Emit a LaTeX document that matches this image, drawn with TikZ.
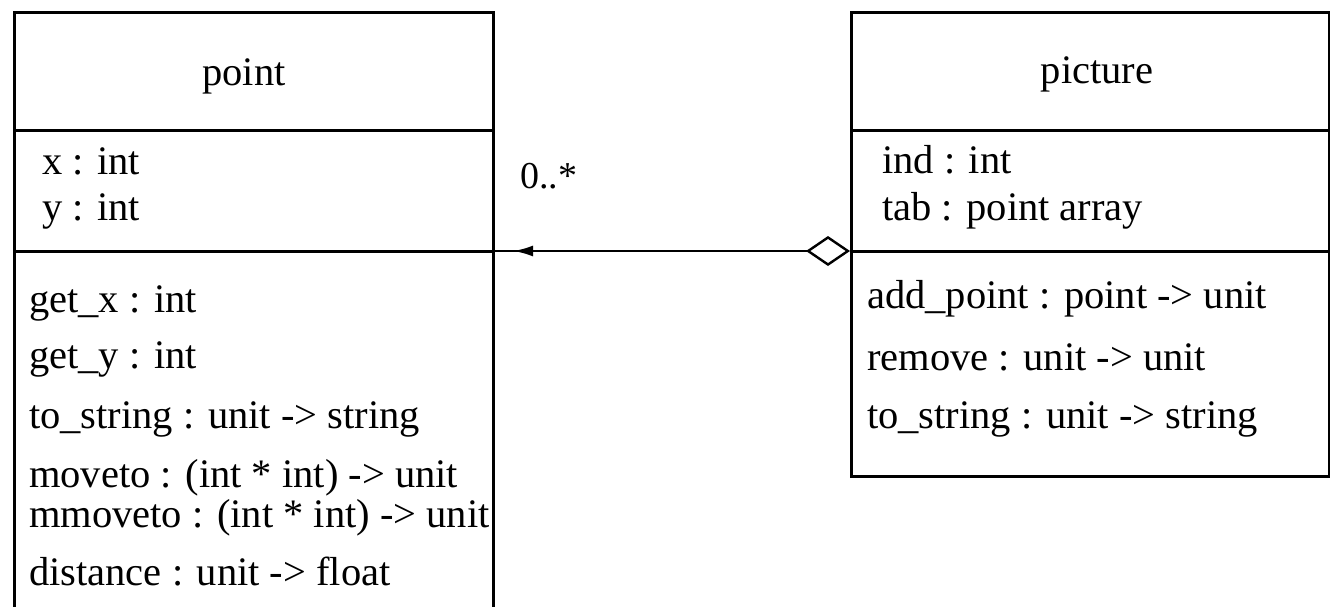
\documentclass[tikz,border=0pt]{standalone}
\usepackage{fontspec}
\setmainfont{Liberation Serif}
\usetikzlibrary{arrows.meta,decorations.markings}

\begin{document}
\begin{tikzpicture}[x=1pt,y=-1pt,
  classbox/.style={draw=black, line width=3pt, anchor=north west, inner sep=0pt},
  sepline/.style={draw=black, line width=3pt},
  member/.style={anchor=base west, inner sep=0pt, font=\fontsize{40.5}{45}\selectfont},
  title/.style={anchor=base, inner sep=0pt, font=\fontsize{40.5}{45}\selectfont},
  mult/.style={anchor=base west, inner sep=0pt, font=\fontsize{38}{42}\selectfont},
  aggreg/.style={draw=black, line width=2.6pt,
    {Diamond[open, length=44pt, width=30pt, line width=2.4pt]}-,
    postaction={decorate},
    decoration={markings, mark=at position -18pt with {\arrow{Latex[length=20pt, width=11pt]}}}}
]
\clip (0,0) rectangle (1330,607);
\fill[white] (0,0) rectangle (1330,607);

% class point (runs past the lower edge)
\node[classbox, minimum width=479pt, minimum height=640pt] (point) at (13,11) {};
\draw[sepline] ([yshift=-120pt]point.north west) -- ([yshift=-120pt]point.north east);
\draw[sepline] ([yshift=-240pt]point.north west) -- ([yshift=-240pt]point.north east);
\node[title]  (pointname) at (244,86) {point};
\node[member] (px)   at (42,175) {x : int};
\node[member] (py)   at (42,220) {y : int};
\node[member] (pgx)  at (29,312) {get\_x : int};
\node[member] (pgy)  at (29,368) {get\_y : int};
\node[member] (pts)  at (29,428) {to\_string : unit -> string};
\node[member] (pmv)  at (29,487) {moveto : (int * int) -> unit};
\node[member] (pmmv) at (29,527) {mmoveto : (int * int) -> unit};
\node[member] (pds)  at (29,585) {distance : unit -> float};

% class picture
\node[classbox, minimum width=478pt, minimum height=464pt] (picture) at (850,11) {};
\draw[sepline] ([yshift=-120pt]picture.north west) -- ([yshift=-120pt]picture.north east);
\draw[sepline] ([yshift=-240pt]picture.north west) -- ([yshift=-240pt]picture.north east);
\node[title]  (picname) at (1097,84) {picture};
\node[member] (qind) at (882,173) {ind : int};
\node[member] (qtab) at (882,220) {tab : point array};
\node[member] (qadd) at (867,308) {add\_point : point -> unit};
\node[member] (qrem) at (867,370) {remove : unit -> unit};
\node[member] (qts)  at (867,428) {to\_string : unit -> string};

% aggregation picture <>--> point
\draw[aggreg] ([yshift=-240pt]picture.north west) -- ([yshift=-240pt]point.north east);
\node[mult] (card) at (520,188) {0..*};
\end{tikzpicture}
\end{document}
